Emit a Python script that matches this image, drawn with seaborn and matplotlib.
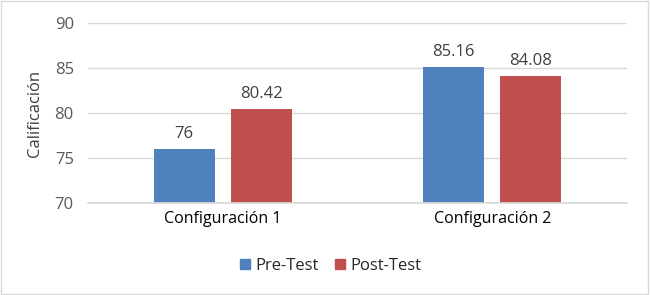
import matplotlib
matplotlib.use("Agg")
import matplotlib.pyplot as plt
import seaborn as sns
import pandas as pd
from matplotlib.patches import Rectangle
from matplotlib.lines import Line2D

categories = ["Configuración 1", "Configuración 2"]
series = ["Pre-Test", "Post-Test"]
pre_values = [76, 85.16]
post_values = [80.42, 84.08]
labels_pre = ["76", "85.16"]
labels_post = ["80.42", "84.08"]
yticks = [70, 75, 80, 85, 90]

sns.set_theme(style="white")
plt.rcParams['font.family'] = ['Open Sans', 'DejaVu Sans']

df = pd.DataFrame({
    "cat": categories * 2,
    "serie": [series[0]] * 2 + [series[1]] * 2,
    "val": pre_values + post_values,
})
colors = ["#4F81BD", "#C0504D"]

fig = plt.figure(figsize=(6.5, 2.95), dpi=100)
ax = fig.add_axes([0.135, 0.312, 0.83, 0.61])
sns.barplot(data=df, x="cat", y="val", hue="serie", palette=colors, ax=ax,
            width=0.572, gap=0.21, legend=False, saturation=1, linewidth=0)
ax.set_ylim(70, 90)
ax.set_yticks(yticks)
ax.set_yticklabels([str(t) for t in yticks], fontsize=12, color="#595959")
ax.yaxis.grid(True, color="#D9D9D9", linewidth=1)
ax.set_axisbelow(True)
for s in ["top", "right", "left"]:
    ax.spines[s].set_visible(False)
ax.spines["bottom"].set_color("#D9D9D9")
ax.tick_params(axis="y", length=0, pad=10)
ax.tick_params(axis="x", length=0, labelsize=11.5, labelcolor="#000000", pad=6)
ax.set_xlabel("")
ax.set_ylabel("Calificación", fontsize=12, color="#404040", labelpad=8)

for cont, labs in zip(ax.containers, [labels_pre, labels_post]):
    ax.bar_label(cont, labels=labs, padding=5, fontsize=12, color="#404040")

handles = [Line2D([0], [0], marker="s", linestyle="none", markersize=6.5,
                  markerfacecolor=c, markeredgecolor=c) for c in colors]
fig.legend(handles, series, loc="center", bbox_to_anchor=(0.505, 0.1), ncol=2,
           frameon=False, fontsize=12, handletextpad=0.0, columnspacing=0.7,
           handlelength=1.2)

fig.patches.append(Rectangle((0.002, 0.004), 0.995, 0.992, transform=fig.transFigure,
                             fill=False, edgecolor="#D9D9D9", linewidth=1))
fig.savefig("out.png", dpi=100)
